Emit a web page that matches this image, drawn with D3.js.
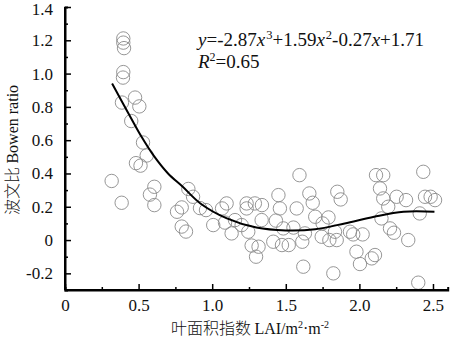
<!DOCTYPE html>
<html><head><meta charset="utf-8">
<script src="https://cdn.jsdelivr.net/npm/d3@7"></script>
<style>body{margin:0;background:#fff}svg{display:block}</style>
</head><body>
<svg id="c" width="450" height="338"></svg>
<script>
// Scatter: leaf area index (LAI) vs Bowen ratio
const lai = [0.317,0.385,0.396,0.396,0.401,0.396,0.394,0.387,0.476,0.505,0.450,0.530,0.555,0.482,0.513,0.607,0.577,0.607,0.761,0.793,0.793,0.822,0.838,0.870,0.917,0.958,1.007,1.067,1.098,1.087,1.132,1.155,1.200,1.234,1.234,1.245,1.268,1.298,1.290,1.338,1.315,1.336,1.450,1.460,1.433,1.483,1.415,1.474,1.520,1.552,1.574,1.593,1.619,1.612,1.630,1.660,1.683,1.700,1.750,1.790,1.744,1.796,1.834,1.846,1.850,1.873,1.823,1.936,1.958,2.022,1.980,2.004,2.084,2.106,2.113,2.162,2.140,2.162,2.196,2.150,2.208,2.235,2.332,2.253,2.317,2.410,2.434,2.446,2.484,2.514,2.400];
const bowen = [0.355,0.224,1.211,1.186,1.153,1.009,0.976,0.826,0.856,0.803,0.715,0.586,0.508,0.462,0.447,0.320,0.273,0.210,0.170,0.196,0.081,0.051,0.307,0.260,0.192,0.180,0.090,0.190,0.220,0.105,0.040,0.120,0.090,0.220,0.190,0.050,-0.033,-0.100,0.220,0.210,-0.040,0.120,0.270,0.190,0.117,0.070,-0.010,-0.030,-0.030,0.075,0.190,0.390,-0.160,-0.010,0.040,0.280,0.224,0.140,0.100,0.136,0.020,0.000,0.050,0.000,0.290,0.244,-0.200,0.050,0.034,0.034,-0.070,-0.144,-0.110,-0.090,0.390,0.390,0.310,0.250,0.200,0.130,0.070,0.044,0.000,0.260,0.240,0.160,0.410,0.260,0.260,0.240,-0.256];
// fitted curve
const fitX = [0.32,0.45,0.52,0.60,0.70,0.80,0.92,1.10,1.30,1.50,1.70,1.90,2.10,2.30,2.51];
const fitY = [0.94,0.73,0.62,0.51,0.40,0.32,0.22,0.13,0.075,0.058,0.065,0.10,0.14,0.17,0.17];
const xMajor = [0,0.5,1.0,1.5,2.0,2.5];
const xMajorLabels = ["0","0.5","1.0","1.5","2.0","2.5"];
const xMinor = [0.25,0.75,1.25,1.75,2.25];
const yMajor = [-0.2,0,0.2,0.4,0.6,0.8,1.0,1.2,1.4];
const yMajorLabels = ["-0.2","0","0.2","0.4","0.6","0.8","1.0","1.2","1.4"];
const yMinor = [-0.1,0.1,0.3,0.5,0.7,0.9,1.1,1.3];

const svg = d3.select("#c");
const serif = "'Liberation Serif','Times New Roman',serif";
const x = d3.scaleLinear().domain([0,2.6]).range([65,447.7]);
const y = d3.scaleLinear().domain([-0.3,1.4]).range([290,7]);

// points
svg.append("g").selectAll("circle").data(lai.map((d,i)=>[d,bowen[i]])).join("circle")
  .attr("cx",d=>x(d[0])).attr("cy",d=>y(d[1])).attr("r",6.7)
  .attr("fill","none").attr("stroke","#8a8a8a").attr("stroke-width",0.9);

// curve
svg.append("path").datum(fitX.map((d,i)=>[d,fitY[i]]))
  .attr("d",d3.line().x(d=>x(d[0])).y(d=>y(d[1])).curve(d3.curveCatmullRom.alpha(0.5)))
  .attr("fill","none").attr("stroke","#000").attr("stroke-width",2);

// axes
const gx = svg.append("g").attr("transform","translate(0,290)");
gx.call(d3.axisBottom(x).tickValues(xMajor).tickSize(-6).tickFormat((d,i)=>xMajorLabels[i]).tickPadding(9));
gx.append("g").call(d3.axisBottom(x).tickValues(xMinor).tickSize(-3).tickFormat(""));
const gy = svg.append("g").attr("transform","translate(65,0)");
gy.call(d3.axisLeft(y).tickValues(yMajor).tickSize(-6).tickFormat((d,i)=>yMajorLabels[i]).tickPadding(12));
gy.append("g").call(d3.axisLeft(y).tickValues(yMinor).tickSize(-3).tickFormat(""));
svg.selectAll(".domain").attr("stroke","#000").attr("stroke-width",2);
svg.selectAll(".tick line").attr("stroke","#000").attr("stroke-width",1.5);
svg.selectAll(".tick text").style("font-family",serif).style("font-size","17px").attr("fill","#111");
gy.selectAll(".tick text").filter(d=>d===1.4).attr("dy","0.45em");
gx.select(".domain").attr("d",`M65,0H447.7`);
gy.select(".domain").attr("d",`M0,7V290`);

// axis titles
svg.append("text").attr("transform","translate(18,150) rotate(-90)").attr("text-anchor","middle")
  .style("font-size","16px").attr("fill","#111")
  .call(t=>{t.append("tspan").style("font-family","'Noto Sans CJK SC'").attr("font-weight",300).text("波文比 ");
            t.append("tspan").style("font-family",serif).text("Bowen ratio");});
const xt = svg.append("text").attr("x",250).attr("y",334).attr("text-anchor","middle").style("font-size","16px").attr("fill","#111");
xt.append("tspan").style("font-family","'Noto Sans CJK SC'").attr("font-weight",300).text("叶面积指数 ");
xt.append("tspan").style("font-family",serif).text("LAI/m");
xt.append("tspan").style("font-family",serif).style("font-size","10px").attr("dy",-6).text("2");
xt.append("tspan").style("font-family",serif).attr("dy",6).text("·m");
xt.append("tspan").style("font-family",serif).style("font-size","10px").attr("dy",-6).text("-2");

// equation
const eq = svg.append("text").attr("x",198).attr("y",46).style("font-family",serif).style("font-size","19px").attr("fill","#111");
const parts = [["y",1],["=-2.87",0],["x",1],["3",2],["+1.59",0],["x",1],["2",2],["-0.27",0],["x",1],["+1.71",0]];
let up=false;
parts.forEach(([s,k])=>{
  const ts = eq.append("tspan").text(s);
  if(k===1) ts.attr("font-style","italic");
  if(k===2){ts.style("font-size","12.5px").attr("dy",-7).attr("dx",1);up=true;}
  else if(up){ts.attr("dy",7);up=false;}
});
const r2 = svg.append("text").attr("x",198).attr("y",68).style("font-family",serif).style("font-size","19px").attr("fill","#111");
r2.append("tspan").attr("font-style","italic").text("R");
r2.append("tspan").style("font-size","12px").attr("dy",-7).text("2");
r2.append("tspan").attr("dy",7).text("=0.65");
</script>
</body></html>
